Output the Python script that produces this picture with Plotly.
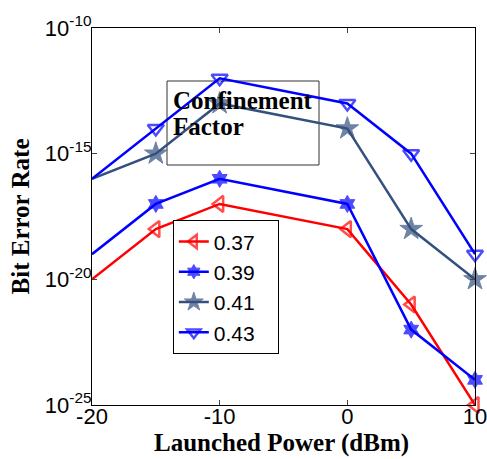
import plotly.graph_objects as go

x_vals = [-20, -15, -10, 0, 5, 10]
ber_037 = [1e-20, 1e-18, 1e-17, 1e-18, 1e-21, 1e-25]
ber_039 = [1e-19, 1e-17, 1e-16, 1e-17, 1e-22, 1e-24]
ber_041 = [1e-16, 1e-15, 1e-13, 1e-14, 1e-18, 1e-20]
ber_043 = [1e-16, 1e-14, 1e-12, 1e-13, 1e-15, 1e-19]
labels = ["0.37\u00a0\u00a0\u00a0", "0.39\u00a0\u00a0\u00a0", "0.41\u00a0\u00a0\u00a0", "0.43\u00a0\u00a0\u00a0"]
y_tickvals = [1e-25, 1e-20, 1e-15, 1e-10]
y_ticktext = ["10<sup>-25</sup>", "10<sup>-20</sup>", "10<sup>-15</sup>", "10<sup>-10</sup>"]
x_tickvals = [-20, -10, 0, 10]
x_ticktext = ["-20", "-10", "0", "10"]
x_title = "Launched Power (dBm)"
y_title = "Bit Error Rate"

series = [
    (ber_037, "#ff0000", "triangle-left-open", 14, 2.5),
    (ber_039, "#0000ff", "hexagram", 13, 1),
    (ber_041, "#34507f", "star", 17, 1),
    (ber_043, "#0000ff", "triangle-down-open", 14, 2.5),
]

fig = go.Figure()
for (vals, color, sym, size, mlw), name in zip(series, labels):
    sizes = [0] + [size] * (len(vals) - 1)
    fig.add_trace(go.Scatter(
        x=x_vals, y=vals, name=name, mode="lines+markers",
        line=dict(color=color, width=2.5),
        marker=dict(symbol=sym, size=sizes, color=color,
                    line=dict(color=color, width=mlw)),
        cliponaxis=False,
    ))

serif = "Times New Roman, Liberation Serif, serif"
sans = "Arial, Liberation Sans, sans-serif"

fig.update_layout(
    width=487, height=459,
    margin=dict(l=92, r=12, t=28, b=54, autoexpand=False),
    paper_bgcolor="white", plot_bgcolor="white",
    showlegend=True,
    legend=dict(
        x=0.211, y=0.49, xanchor="left", yanchor="top",
        bgcolor="white", bordercolor="black", borderwidth=1,
        font=dict(family=sans, size=21, color="black"),
        itemwidth=30, tracegroupgap=0,
    ),
    xaxis=dict(
        range=[-20, 10], tickvals=x_tickvals, ticktext=x_ticktext,
        ticks="inside", ticklen=5, automargin=True, ticklabelstandoff=-8,
        ticklabeloverflow="allow",
        showline=True, linecolor="black", linewidth=1, mirror="ticks",
        showgrid=False, zeroline=False,
        tickfont=dict(family=sans, size=22, color="black"),
    ),
    yaxis=dict(
        type="log", range=[-25, -10], tickvals=y_tickvals, ticktext=y_ticktext,
        ticks="inside", ticklen=5, automargin=True, ticklabelstandoff=-5,
        ticklabeloverflow="allow",
        showline=True, linecolor="black", linewidth=1, mirror="ticks",
        showgrid=False, zeroline=False,
        tickfont=dict(family=sans, size=22, color="black"),
        title=dict(text=y_title, standoff=8,
                   font=dict(family=serif, size=25, color="black", weight="bold")),
    ),
)

fig.add_annotation(xref="paper", yref="paper", x=(281.5 - 92) / 383, y=(405 - 458) / 377,
                   xanchor="center", yanchor="bottom", text=x_title, showarrow=False,
                   borderpad=0,
                   font=dict(family=serif, size=25, color="black", weight="bold"))

fig.add_shape(type="rect", xref="paper", yref="paper",
              x0=(167 - 92) / 383, x1=(319 - 92) / 383,
              y0=(405 - 165) / 377, y1=(405 - 81) / 377,
              line=dict(color="#333333", width=1), fillcolor="rgba(0,0,0,0)", layer="below")
for txt, yc in [("Confinement", 100), ("Factor", 127)]:
    fig.add_annotation(xref="paper", yref="paper",
                       x=(171 - 92) / 383, y=(405 - yc) / 377, xanchor="left", yanchor="middle",
                       text=txt, showarrow=False, align="left",
                       font=dict(family=serif, size=25, color="black", weight="bold"))

fig.write_html("out.html")
